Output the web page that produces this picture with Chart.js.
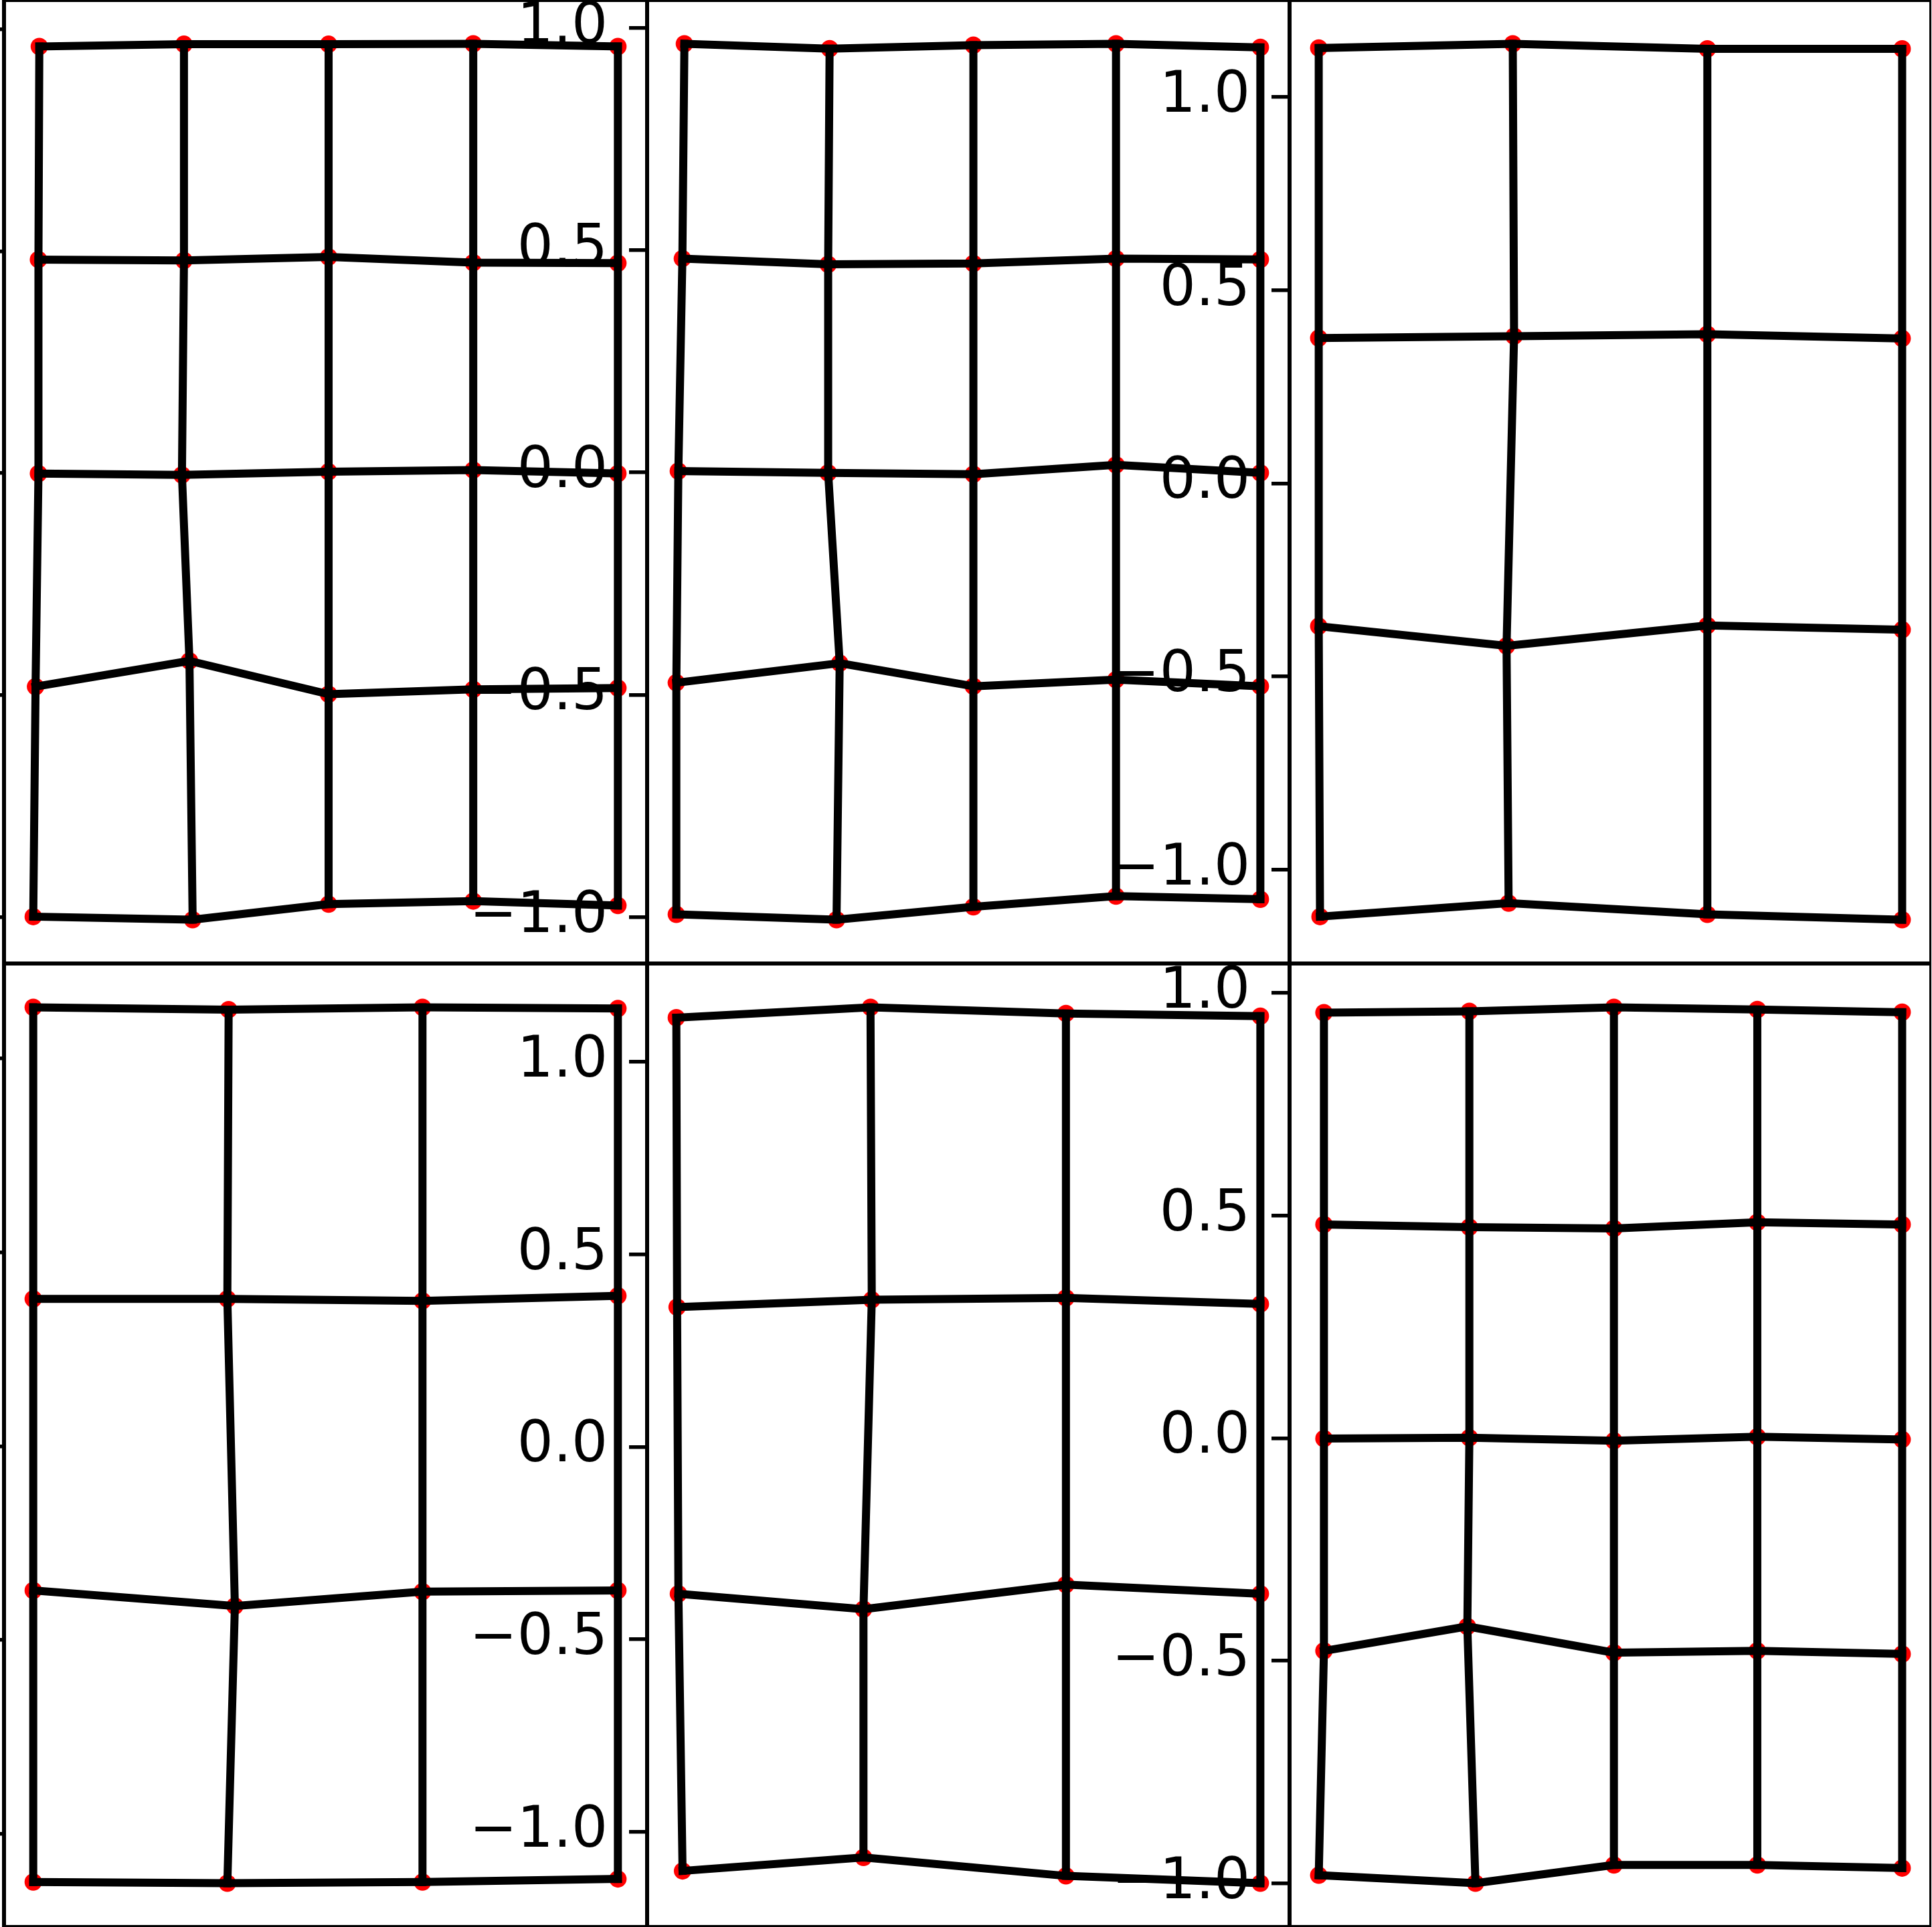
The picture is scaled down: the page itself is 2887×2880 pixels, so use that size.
<!DOCTYPE html>
<html>
<head>
<meta charset="utf-8">
<script src="https://cdn.jsdelivr.net/npm/chart.js@4.4.0/dist/chart.umd.min.js"></script>
<style>
  html, body { margin: 0; padding: 0; background: #fff; }
  #fig { position: relative; width: 2887px; height: 2880px; overflow: hidden; background: #fff; }
  #fig canvas { position: absolute; }
</style>
</head>
<body>
<div id="fig"></div>
<script>
// Mesh node coordinates, one row per mesh line (top -> bottom), nodes left -> right
const p1X = [
  [-1.000, -0.500, 0.000, 0.500, 1.000],
  [-1.003, -0.500, 0.000, 0.500, 1.000],
  [-1.003, -0.507, 0.000, 0.500, 1.000],
  [-1.013, -0.481, 0.000, 0.500, 1.000],
  [-1.021, -0.470, 0.000, 0.500, 1.000]
];
const p1Y = [
  [0.961, 0.966, 0.966, 0.967, 0.961],
  [0.481, 0.479, 0.487, 0.474, 0.473],
  [-0.001, -0.004, 0.003, 0.007, -0.001],
  [-0.481, -0.423, -0.498, -0.487, -0.484],
  [-0.999, -1.006, -0.971, -0.964, -0.974]
];

const p2X = [
  [-1.003, -0.499, 0.000, 0.495, 0.996],
  [-1.010, -0.504, 0.000, 0.495, 0.996],
  [-1.024, -0.504, 0.000, 0.495, 0.996],
  [-1.031, -0.464, 0.000, 0.495, 0.996],
  [-1.031, -0.475, 0.000, 0.495, 0.996]
];
const p2Y = [
  [0.964, 0.953, 0.961, 0.964, 0.956],
  [0.481, 0.468, 0.470, 0.481, 0.479],
  [0.003, -0.001, -0.004, 0.017, -0.001],
  [-0.473, -0.429, -0.481, -0.466, -0.481],
  [-0.994, -1.006, -0.977, -0.953, -0.960]
];

const p3X = [
  [-1.126, -0.377, 0.374, 1.126],
  [-1.126, -0.372, 0.374, 1.126],
  [-1.126, -0.401, 0.374, 1.126],
  [-1.121, -0.393, 0.374, 1.126]
];
const p3Y = [
  [1.127, 1.138, 1.125, 1.125],
  [0.376, 0.381, 0.386, 0.375],
  [-0.370, -0.421, -0.368, -0.379],
  [-1.122, -1.087, -1.116, -1.130]
];

const p4X = [
  [-1.125, -0.373, 0.373, 1.125],
  [-1.125, -0.378, 0.373, 1.125],
  [-1.125, -0.349, 0.373, 1.125],
  [-1.125, -0.378, 0.373, 1.125]
];
const p4Y = [
  [1.132, 1.126, 1.132, 1.129],
  [0.380, 0.380, 0.375, 0.388],
  [-0.372, -0.412, -0.375, -0.372],
  [-1.124, -1.127, -1.124, -1.116]
];

const p5X = [
  [-1.125, -0.377, 0.376, 1.125],
  [-1.122, -0.372, 0.376, 1.125],
  [-1.117, -0.404, 0.376, 1.125],
  [-1.101, -0.404, 0.376, 1.125]
];
const p5Y = [
  [1.115, 1.142, 1.126, 1.119],
  [0.363, 0.382, 0.387, 0.371],
  [-0.382, -0.422, -0.358, -0.382],
  [-1.102, -1.067, -1.115, -1.134]
];

const p6X = [
  [-1.000, -0.497, 0.003, 0.499, 1.000],
  [-1.000, -0.497, 0.003, 0.499, 1.000],
  [-1.000, -0.497, 0.003, 0.499, 1.000],
  [-1.000, -0.504, 0.003, 0.499, 1.000],
  [-1.018, -0.476, 0.003, 0.499, 1.000]
];
const p6Y = [
  [0.956, 0.959, 0.968, 0.963, 0.957],
  [0.480, 0.474, 0.471, 0.485, 0.480],
  [-0.001, 0.001, -0.006, 0.003, -0.003],
  [-0.478, -0.423, -0.482, -0.478, -0.485],
  [-0.982, -1.000, -0.959, -0.959, -0.966]
];

const yTickStep = 0.5;

// Layout: subplots touching each other, y axis on the left of each panel
const AXIS_W = 290;     // room for the y tick labels (spills into the left neighbour)
const colEdges = [6, 967, 1927, 2886];
const rowEdges = [0, 1440, 2880];

const panels = [
  { X: p1X, Y: p1Y, col: 0, row: 0 },
  { X: p2X, Y: p2Y, col: 1, row: 0 },
  { X: p3X, Y: p3Y, col: 2, row: 0 },
  { X: p4X, Y: p4Y, col: 0, row: 1 },
  { X: p5X, Y: p5Y, col: 1, row: 1 },
  { X: p6X, Y: p6Y, col: 2, row: 1 }
];

// Axes frame (all four spines)
const frame = {
  id: 'frame',
  afterDraw(chart) {
    const { ctx, chartArea: a } = chart;
    ctx.save();
    ctx.strokeStyle = '#000';
    ctx.lineWidth = 6;
    ctx.strokeRect(a.left, a.top, a.right - a.left, a.bottom - a.top);
    ctx.restore();
  }
};

function fmtTick(v) {
  if (Math.abs(v) < 1e-9) v = 0;
  return (v < 0 ? '\u2212' : '') + Math.abs(v).toFixed(1);
}

// matplotlib-like 5% data margins
function limits(rows) {
  const vals = rows.flat();
  const lo = Math.min(...vals), hi = Math.max(...vals);
  const m = (hi - lo) * 0.05;
  return [lo - m, hi + m];
}

function meshDatasets(X, Y) {
  const sets = [];
  const lineStyle = {
    showLine: true,
    borderColor: '#000',
    borderWidth: 12,
    borderCapStyle: 'square',
    borderJoinStyle: 'round',
    pointRadius: 0,
    fill: false,
    tension: 0,
    order: 0
  };
  // lines along rows
  X.forEach((row, r) => {
    sets.push({ ...lineStyle, data: row.map((x, i) => ({ x, y: Y[r][i] })) });
  });
  // lines along columns
  X[0].forEach((_, c) => {
    sets.push({ ...lineStyle, data: X.map((row, r) => ({ x: row[c], y: Y[r][c] })) });
  });
  // nodes, drawn under the lines
  sets.push({
    data: X.flatMap((row, r) => row.map((x, i) => ({ x, y: Y[r][i] }))),
    showLine: false,
    pointRadius: 13,
    pointBackgroundColor: '#ff0000',
    pointBorderWidth: 0,
    order: 1
  });
  return sets;
}

const fig = document.getElementById('fig');

panels.forEach(p => {
  const left = colEdges[p.col], right = colEdges[p.col + 1];
  const top = rowEdges[p.row], bottom = rowEdges[p.row + 1];
  const w = right - left + AXIS_W, h = bottom - top;

  const canvas = document.createElement('canvas');
  canvas.width = w;
  canvas.height = h;
  canvas.style.width = w + 'px';
  canvas.style.height = h + 'px';
  canvas.style.left = (left - AXIS_W) + 'px';
  canvas.style.top = top + 'px';
  fig.appendChild(canvas);

  const xl = limits(p.X), yl = limits(p.Y);

  new Chart(canvas, {
    type: 'scatter',
    data: { datasets: meshDatasets(p.X, p.Y) },
    options: {
      responsive: false,
      devicePixelRatio: 1,
      animation: false,
      events: [],
      layout: { padding: 0, autoPadding: false },
      plugins: { legend: { display: false }, tooltip: { enabled: false } },
      scales: {
        x: { type: 'linear', display: false, min: xl[0], max: xl[1] },
        y: {
          type: 'linear',
          position: 'left',
          min: yl[0],
          max: yl[1],
          afterFit: s => {
            s.width = AXIS_W;
            // let the end labels overhang instead of shrinking the plot
            s.paddingTop = 0;
            s.paddingBottom = 0;
          },
          grid: { drawOnChartArea: false, drawTicks: true, tickLength: 27, color: '#000', lineWidth: 5.5 },
          border: { display: false },
          ticks: {
            stepSize: yTickStep,
            includeBounds: false,
            autoSkip: false,
            maxRotation: 0,
            padding: 32,
            color: '#000',
            font: { family: 'DejaVu Sans', size: 85 },
            callback: fmtTick
          }
        }
      }
    },
    plugins: [frame]
  });
});
</script>
</body>
</html>
